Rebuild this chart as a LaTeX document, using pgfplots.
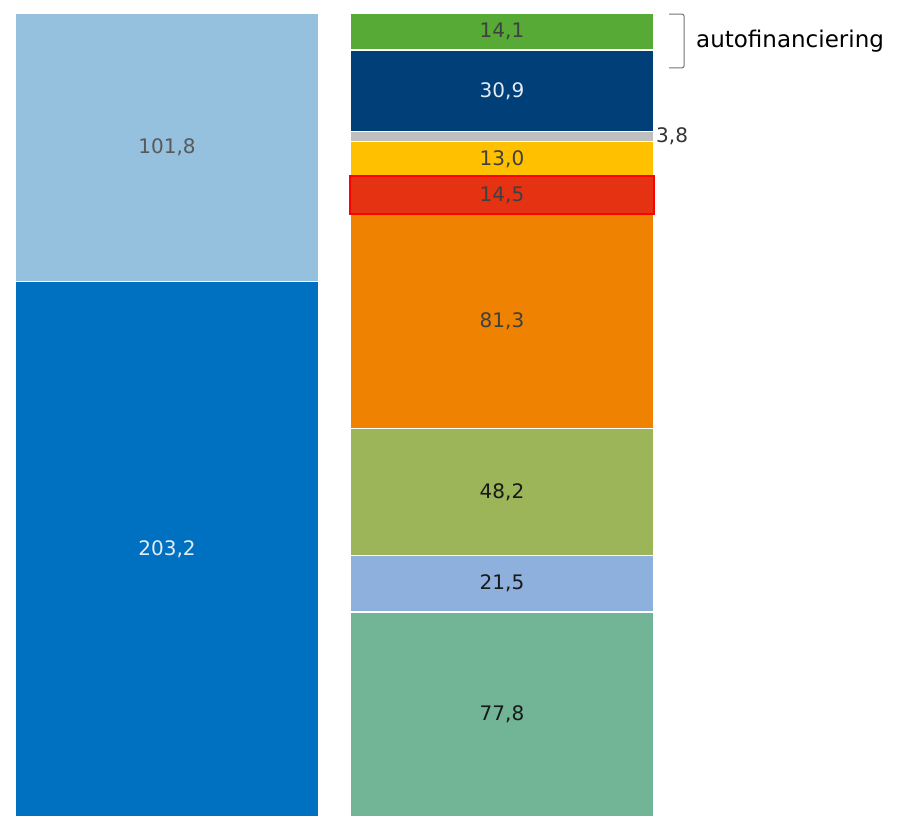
\documentclass[border=0pt]{standalone}
\usepackage{pgfplots}
\pgfplotsset{compat=1.18}
\usepackage{fontspec}
\setmainfont{DejaVu Sans}
\definecolor{cLB}{HTML}{95C1DF}
\definecolor{cDB}{HTML}{0070C0}
\definecolor{cS1}{HTML}{72B596}
\definecolor{cS2}{HTML}{8EB0DC}
\definecolor{cS3}{HTML}{9BB558}
\definecolor{cS4}{HTML}{EF8200}
\definecolor{cS5}{HTML}{E53212}
\definecolor{cS6}{HTML}{FFC000}
\definecolor{cS7}{HTML}{BFBFBF}
\definecolor{cS8}{HTML}{003F77}
\definecolor{cS9}{HTML}{56AA35}
\definecolor{tDark}{HTML}{404040}
\definecolor{tLight}{HTML}{E4ECF4}
\pgfplotsset{frame/.style={
  at={(0,0)}, anchor=origin,
  scale only axis, width=897pt, height=822pt,
  xmin=0, xmax=897, ymin=-1.90, ymax=310.06,
  hide axis, clip=false}}
\pgfplotsset{myax/.style={frame, ybar stacked, bar width=304, bar shift=0pt}}
\begin{document}
\begin{tikzpicture}
% left bar
\begin{axis}[myax]
\addplot[fill=cDB, draw=white, line width=1.5pt] coordinates {(167,203.2)};
\addplot[fill=cLB, draw=white, line width=1.5pt] coordinates {(167,101.8)};
\path (axis cs:0,-1.90) rectangle (axis cs:897,310.06);
\end{axis}
% right bar
\begin{axis}[myax]
\addplot[fill=cS1, draw=white, line width=1.5pt] coordinates {(502,77.8)};
\addplot[fill=cS2, draw=white, line width=1.5pt] coordinates {(502,21.5)};
\addplot[fill=cS3, draw=white, line width=1.5pt] coordinates {(502,48.2)};
\addplot[fill=cS4, draw=white, line width=1.5pt] coordinates {(502,81.3)};
\addplot[fill=cS5, draw=white, line width=1.5pt] coordinates {(502,14.5)};
\addplot[fill=cS6, draw=white, line width=1.5pt] coordinates {(502,13.0)};
\addplot[fill=cS7, draw=white, line width=1.5pt] coordinates {(502,3.8)};
\addplot[fill=cS8, draw=white, line width=1.5pt] coordinates {(502,30.9)};
\addplot[fill=cS9, draw=white, line width=1.5pt] coordinates {(502,14.1)};
\end{axis}
% red outline of the 14,5 segment
\begin{axis}[myax]
\addplot[fill=none, draw=none] coordinates {(502,228.8)};
\addplot[fill=none, draw=red, line width=2pt] coordinates {(502,14.5)};
\end{axis}
% labels
\begin{axis}[frame]
\node[text=tLight, font=\fontsize{20}{24}\selectfont] at (axis cs:167,101.6) {203,2};
\node[text=black!65, font=\fontsize{20}{24}\selectfont] at (axis cs:167,254.1) {101,8};
\node[text=black!90, font=\fontsize{20}{24}\selectfont] at (axis cs:502,38.9) {77,8};
\node[text=black!90, font=\fontsize{20}{24}\selectfont] at (axis cs:502,88.55) {21,5};
\node[text=black!90, font=\fontsize{20}{24}\selectfont] at (axis cs:502,123.4) {48,2};
\node[text=tDark, font=\fontsize{20}{24}\selectfont] at (axis cs:502,188.15) {81,3};
\node[text=tDark, font=\fontsize{20}{24}\selectfont] at (axis cs:502,236.05) {14,5};
\node[text=tDark, font=\fontsize{20}{24}\selectfont] at (axis cs:502,249.8) {13,0};
\node[text=black!80, font=\fontsize{20}{24}\selectfont, anchor=west, inner sep=1pt] at (axis cs:655,258.2) {3,8};
\node[text=tLight, font=\fontsize{20}{24}\selectfont] at (axis cs:502,275.55) {30,9};
\node[text=tDark, font=\fontsize{20}{24}\selectfont] at (axis cs:502,298.05) {14,1};
\draw[black!55, line width=1pt, rounded corners=2pt] (axis cs:669,304.7) -- (axis cs:684,304.7) -- (axis cs:684,284.3) -- (axis cs:669,284.3);
\node[anchor=west, inner sep=0pt, font=\fontsize{23}{27}\selectfont] at (axis cs:696,294.5) {autofinanciering};
\end{axis}
\end{tikzpicture}
\end{document}
